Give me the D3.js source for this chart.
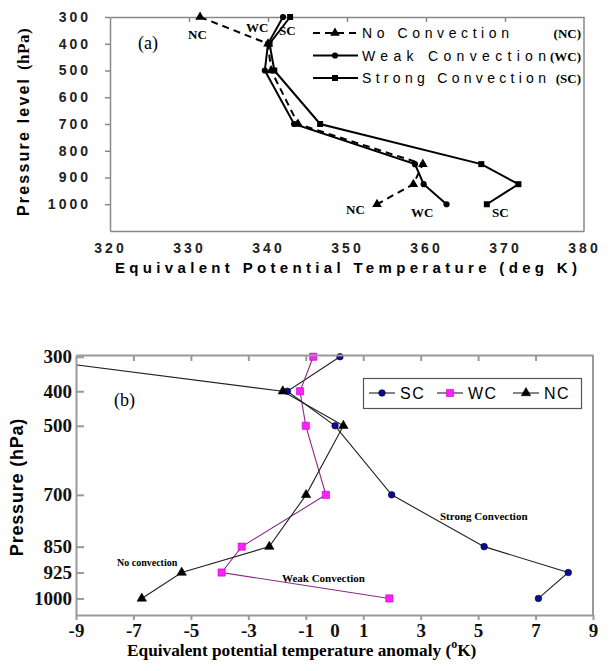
<!DOCTYPE html>
<html>
<head>
<meta charset="utf-8">
<script src="https://cdn.jsdelivr.net/npm/d3@7"></script>
<style>
  body { margin: 0; background: #fff; }
  svg { display: block; }
</style>
</head>
<body>
<div id="chart"></div>
<script>
// ---- data (a): equivalent potential temperature, deg K
const levelsA = [300, 400, 500, 700, 850, 925, 1000]
const ncA = [331.4, 340.0, 340.4, 343.8, 359.6, 358.4, 353.8]
const wcA = [341.9, 340.0, 339.6, 343.3, 358.6, 359.7, 362.6]
const scA = [342.8, 340.2, 340.8, 346.6, 367.0, 371.7, 367.7]
const xTicksA = [320, 330, 340, 350, 360, 370, 380]
const yTicksA = [300, 400, 500, 600, 700, 800, 900, 1000]
const legendA = [
  { name: 'No Convection', abbr: '(NC)' },
  { name: 'Weak Convection', abbr: '(WC)' },
  { name: 'Strong Convection', abbr: '(SC)' }
]

// ---- data (b): anomaly, deg K
const levelsB = [300, 400, 500, 700, 850, 925, 1000]
const scB = [0.19, -1.64, 0.02, 1.99, 5.21, 8.14, 7.10]
const wcB = [-0.74, -1.20, -1.00, -0.30, -3.23, -3.93, 1.91]
const ncB = [-11.2, -1.80, 0.31, -0.99, -2.27, -5.32, -6.71]
const xTicksB = [-9, -7, -5, -3, -1, 0, 1, 3, 5, 7, 9]
const xMarksB = [-9, -7, -5, -3, -1, 1, 3, 5, 7, 9]
const legendB = ['SC', 'WC', 'NC']

const W = 611, H = 671
const SANS = 'Liberation Sans, Arial, sans-serif'
const SERIF = 'Liberation Serif, Times New Roman, serif'

const svg = d3.select('#chart').append('svg')
  .attr('width', W).attr('height', H)

function styleAxis(g, color, width) {
  g.select('.domain').attr('stroke', color).attr('stroke-width', width)
  g.selectAll('.tick line').attr('stroke', color).attr('stroke-width', width)
}

// =================== panel (a) ===================
const A = { left: 110, right: 584, top: 17, bottom: 231 }
const xA = d3.scaleLinear().domain([320, 380]).range([A.left, A.right])
const yA = d3.scaleLinear().domain([300, 1100]).range([A.top, A.bottom])
const gA = svg.append('g')

const leftA = gA.append('g')
  .attr('transform', `translate(${A.left},0)`)
  .call(d3.axisLeft(yA).tickValues(yTicksA).tickSize(5).tickPadding(14).tickSizeOuter(0).tickFormat(d3.format('d')))
styleAxis(leftA, '#888', 1.5)
leftA.selectAll('text')
  .attr('font-family', SANS).attr('font-size', 14).attr('font-weight', 'bold')
  .attr('letter-spacing', 3).attr('fill', '#222')

const bottomA = gA.append('g')
  .attr('transform', `translate(0,${A.bottom})`)
  .call(d3.axisBottom(xA).tickValues(xTicksA).tickSize(0).tickPadding(12).tickSizeOuter(0))
styleAxis(bottomA, '#888', 1.5)
bottomA.selectAll('text')
  .attr('font-family', SANS).attr('font-size', 14).attr('font-weight', 'bold')
  .attr('letter-spacing', 3).attr('fill', '#222')

const topA = gA.append('g')
  .attr('transform', `translate(0,${A.top})`)
  .call(d3.axisTop(xA).tickValues(xTicksA.slice(1, -1)).tickSize(-5).tickFormat('').tickSizeOuter(0))
styleAxis(topA, '#888', 1.5)

gA.append('line')
  .attr('x1', A.right).attr('x2', A.right).attr('y1', A.top).attr('y2', A.bottom)
  .attr('stroke', '#888').attr('stroke-width', 1.5)

// titles
gA.append('text')
  .attr('transform', `translate(29,${(A.top + A.bottom) / 2 - 2}) rotate(-90)`)
  .attr('text-anchor', 'middle')
  .attr('font-family', SANS).attr('font-size', 16).attr('font-weight', 'bold')
  .attr('letter-spacing', 2.2)
  .call(t => {
    t.append('tspan').text('Pressure level ')
    t.append('tspan').attr('font-family', SERIF).attr('font-size', 17).attr('letter-spacing', 0.5).text('(hPa)')
  })

gA.append('text')
  .attr('x', 115).attr('y', 273)
  .attr('font-family', SANS).attr('font-size', 15).attr('font-weight', 'bold')
  .attr('textLength', 462).attr('lengthAdjust', 'spacing')
  .text('Equivalent Potential Temperature (deg K)')

gA.append('text')
  .attr('x', 138).attr('y', 49)
  .attr('font-family', SERIF).attr('font-size', 18)
  .text('(a)')

// series
const seriesA = [
  { key: 'NC', vals: ncA, dash: '7,5', marker: d3.symbolTriangle, size: 40 },
  { key: 'WC', vals: wcA, dash: null, marker: d3.symbolCircle, size: 30 },
  { key: 'SC', vals: scA, dash: null, marker: d3.symbolSquare, size: 36 }
]
const lineA = d3.line().x(d => xA(d[0])).y(d => yA(d[1]))

seriesA.forEach(s => {
  const pts = s.vals.map((v, i) => [v, levelsA[i]])
  gA.append('path')
    .datum(pts)
    .attr('d', lineA)
    .attr('fill', 'none').attr('stroke', '#000').attr('stroke-width', 2)
    .attr('stroke-dasharray', s.dash)
  gA.selectAll(null).data(pts).enter().append('path')
    .attr('transform', d => `translate(${xA(d[0])},${yA(d[1])})`)
    .attr('d', d3.symbol().type(s.marker).size(s.size))
    .attr('fill', '#000')
})

// end labels
const endLabelsA = [
  { t: 'NC', x: 188, y: 39 }, { t: 'WC', x: 246, y: 32 }, { t: 'SC', x: 279, y: 35 },
  { t: 'NC', x: 346, y: 214 }, { t: 'WC', x: 411, y: 217 }, { t: 'SC', x: 492, y: 217 }
]
gA.selectAll(null).data(endLabelsA).enter().append('text')
  .attr('x', d => d.x).attr('y', d => d.y)
  .attr('font-family', SERIF).attr('font-size', 13).attr('font-weight', 'bold')
  .text(d => d.t)

// legend
const legA = gA.append('g')
legendA.forEach((d, i) => {
  const y = 33 + i * 22.5
  const s = seriesA[i]
  legA.append('line')
    .attr('x1', 313).attr('x2', 358).attr('y1', y).attr('y2', y)
    .attr('stroke', '#000').attr('stroke-width', 2)
    .attr('stroke-dasharray', i === 0 ? '7,5' : null)
  legA.append('path')
    .attr('transform', `translate(335,${y})`)
    .attr('d', d3.symbol().type(s.marker).size(s.size))
    .attr('fill', '#000')
  legA.append('text')
    .attr('x', 362).attr('y', y + 5)
    .attr('font-family', SANS).attr('font-size', 14)
    .attr('textLength', i === 0 ? 147 : 184).attr('lengthAdjust', 'spacing')
    .text(d.name)
  legA.append('text')
    .attr('x', 581).attr('y', y + 5).attr('text-anchor', 'end')
    .attr('font-family', SERIF).attr('font-size', 13).attr('font-weight', 'bold')
    .text(d.abbr)
})

// =================== panel (b) ===================
const B = { left: 76, right: 593, top: 355, bottom: 615 }
const xB = d3.scaleLinear().domain([-9, 9]).range([B.left, B.right])
const yB = d3.scaleLinear().domain([295, 1048]).range([B.top, B.bottom])
const gB = svg.append('g')

const seriesB = [
  { key: 'SC', vals: scB, line: '#222', fill: '#0a0aa0', stroke: '#000', marker: d3.symbolCircle, size: 34 },
  { key: 'WC', vals: wcB, line: '#8a2a8a', fill: '#ff20ff', stroke: '#c000c0', marker: d3.symbolSquare, size: 52 },
  { key: 'NC', vals: ncB, line: '#222', fill: '#000', stroke: '#000', marker: d3.symbolTriangle, size: 38 }
]

// data first, then a white mask left of the frame, then axes on top
const plotB = gB.append('g')
const lineB = d3.line().x(d => xB(d[0])).y(d => yB(d[1]))

seriesB.forEach(s => {
  const pts = s.vals.map((v, i) => [v, levelsB[i]])
  plotB.append('path')
    .datum(pts)
    .attr('d', lineB)
    .attr('fill', 'none').attr('stroke', s.line).attr('stroke-width', 1.1)
})
seriesB.forEach(s => {
  const pts = s.vals.map((v, i) => [v, levelsB[i]])
  plotB.selectAll(null).data(pts.filter(d => d[0] >= -9)).enter().append('path')
    .attr('transform', d => `translate(${xB(d[0])},${yB(d[1])})`)
    .attr('d', d3.symbol().type(s.marker).size(s.size))
    .attr('fill', s.fill).attr('stroke', s.stroke).attr('stroke-width', 0.6)
})

gB.append('rect')
  .attr('x', 0).attr('y', B.top - 20)
  .attr('width', B.left).attr('height', B.bottom - B.top + 20)
  .attr('fill', '#fff')

const leftB = gB.append('g')
  .attr('transform', `translate(${B.left},0)`)
  .call(d3.axisLeft(yB).tickValues(levelsB).tickSize(-8).tickPadding(4).tickSizeOuter(0).tickFormat(d3.format('d')))
styleAxis(leftB, '#999', 2)
leftB.selectAll('text')
  .attr('font-family', SERIF).attr('font-size', 19).attr('font-weight', 'bold').attr('fill', '#111')

const bottomB = gB.append('g')
  .attr('transform', `translate(0,${B.bottom})`)
  .call(d3.axisBottom(xB).tickValues(xTicksB).tickSize(5).tickPadding(4).tickSizeOuter(0))
styleAxis(bottomB, '#999', 2)
bottomB.selectAll('.tick').filter(d => d === 0).select('line').remove()
bottomB.selectAll('text')
  .attr('font-family', SERIF).attr('font-size', 19).attr('font-weight', 'bold').attr('fill', '#111')
  .text(d => d < 0 ? '-' + Math.abs(d) : d)

const topB = gB.append('g')
  .attr('transform', `translate(0,${B.top})`)
  .call(d3.axisTop(xB).tickValues(xMarksB.slice(1, -1)).tickSize(-6).tickFormat('').tickSizeOuter(0))
styleAxis(topB, '#999', 2)

gB.append('line')
  .attr('x1', B.right).attr('x2', B.right).attr('y1', B.top).attr('y2', B.bottom)
  .attr('stroke', '#999').attr('stroke-width', 2)

gB.append('text')
  .attr('transform', `translate(23,487) rotate(-90)`)
  .attr('text-anchor', 'middle')
  .attr('font-family', SANS).attr('font-size', 18).attr('font-weight', 'bold')
  .attr('letter-spacing', 0.8)
  .text('Pressure (hPa)')

gB.append('text')
  .attr('x', 127).attr('y', 656)
  .attr('font-family', SERIF).attr('font-size', 17.3).attr('font-weight', 'bold')
  .call(t => {
    t.append('tspan').text('Equivalent potential temperature anomaly (')
    t.append('tspan').attr('font-size', 12).attr('dy', -8).text('o')
    t.append('tspan').attr('dy', 8).text('K)')
  })

gB.append('text')
  .attr('x', 114).attr('y', 406)
  .attr('font-family', SERIF).attr('font-size', 18)
  .text('(b)')

// in-plot labels
const notesB = [
  { t: 'Strong Convection', x: 440, y: 520, size: 11 },
  { t: 'Weak Convection', x: 282, y: 582, size: 11 },
  { t: 'No convection', x: 117, y: 566, size: 10 }
]
gB.selectAll(null).data(notesB).enter().append('text')
  .attr('x', d => d.x).attr('y', d => d.y)
  .attr('font-family', SERIF).attr('font-size', d => d.size).attr('font-weight', 'bold')
  .text(d => d.t)

// legend
const legB = gB.append('g')
legB.append('rect')
  .attr('x', 363.5).attr('y', 378.5).attr('width', 218).attr('height', 30)
  .attr('fill', '#fff').attr('stroke', '#555').attr('stroke-width', 1.2)
const legX = [369, 437, 513]
legendB.forEach((k, i) => {
  const s = seriesB[i]
  const x0 = legX[i]
  legB.append('line')
    .attr('x1', x0).attr('x2', x0 + 26).attr('y1', 393).attr('y2', 393)
    .attr('stroke', '#222').attr('stroke-width', 1.1)
  legB.append('path')
    .attr('transform', `translate(${x0 + 13},393)`)
    .attr('d', d3.symbol().type(s.marker).size(s.size))
    .attr('fill', s.fill).attr('stroke', s.stroke).attr('stroke-width', 0.6)
  legB.append('text')
    .attr('x', x0 + 31).attr('y', 399)
    .attr('font-family', SANS).attr('font-size', 16)
    .attr('letter-spacing', 1.5)
    .text(k)
})
</script>
</body>
</html>
